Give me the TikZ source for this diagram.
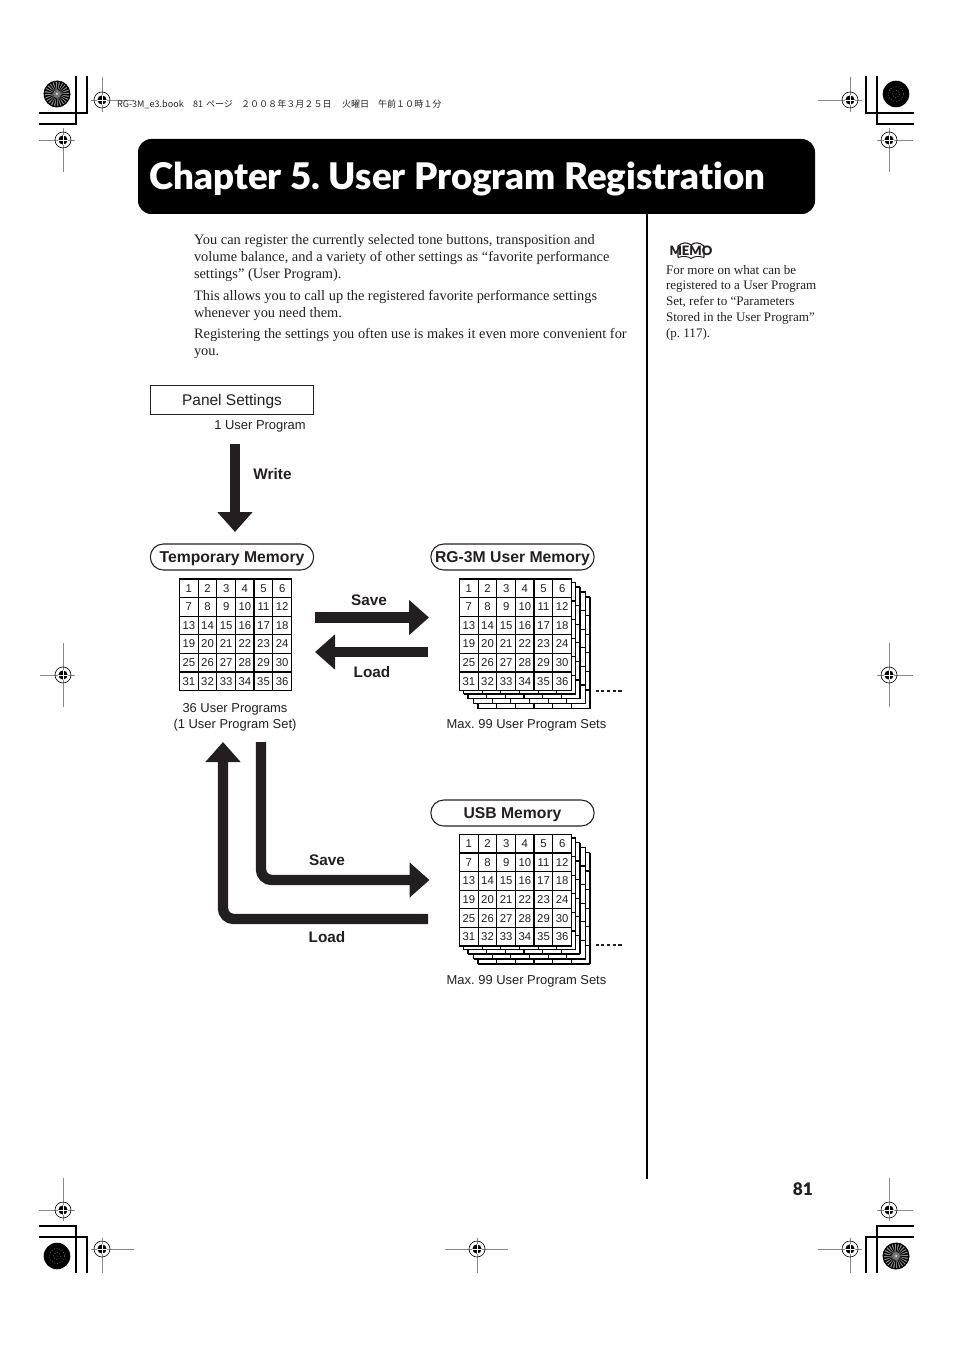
\documentclass[tikz,border=0pt]{standalone}
\usepackage{fontspec}
\usetikzlibrary{arrows.meta}
\setmainfont{Liberation Serif}
\setsansfont{Liberation Sans}
\newfontfamily\titlefont{Lato Black}[Ligatures=NoCommon]
\newfontfamily\cjkhead{Noto Sans CJK JP}
\definecolor{ink}{HTML}{231F20}
\definecolor{reg}{HTML}{8A8A8A}
\newcommand{\fs}[1]{\fontsize{#1}{#1}\selectfont}
\newcommand{\fsl}[2]{\fontsize{#1}{#2}\selectfont}
\tikzset{
  x=0.75pt,y=-0.75pt,
  every node/.style={inner sep=0pt,outer sep=0pt,text=ink},
  bigarrow/.style={draw=ink,line width=7.8pt,-{Triangle[length=15pt,width=25.5pt,fill=ink]},rounded corners=8pt},
  pill/.style={draw=ink,line width=0.8pt,rounded corners=9.7pt,minimum width=122.5pt,minimum height=19.5pt,text height=10.2pt,text depth=2pt,font=\sffamily\bfseries\fs{11.8},fill=white},
  lab/.style={font=\sffamily\fsl{9.7}{12}},
  blab/.style={font=\sffamily\bfseries\fs{11.5}},
  cellnum/.style={font=\sffamily\fs{8.5}},
  bodytext/.style={anchor=north west,align=left,font=\rmfamily\fsl{10.8}{12.75},text=ink},
  hdrtext/.style={anchor=base west,font=\cjkhead\fs{6.8},text=black!85},
  gridline/.style={draw=black,line width=0.9pt},
  regline/.style={draw=reg,line width=0.6pt},
  crop/.style={draw=black,line width=0.8pt},
}
% numbered grid: name, left, top
\newcommand{\numgrid}[3]{%
  \fill[white] (#2,#3) rectangle ++(112,111.5);
  \foreach \i in {0,...,6} {%
    \draw[gridline] ({#2+\i*18.67},#3) -- ++(0,111.5);
    \draw[gridline] (#2,{#3+\i*18.58}) -- ++(112,0);
  }
  \draw[gridline,line width=1.2pt] (#2,#3) rectangle ++(112,111.5);
  \draw[gridline,line width=1.2pt] ({#2+4*18.67},#3) -- ++(0,111.5);
  \draw[gridline,line width=1.2pt] (#2,{#3+5*18.58}) -- ++(112,0);
  \foreach \r in {0,...,5} \foreach \c in {1,...,6} {%
    \pgfmathtruncatemacro{\n}{\r*6+\c}
    \node[cellnum] (#1-\n) at ({#2+(\c-0.5)*18.67},{#3+(\r+0.5)*18.58}) {\n};
  }
}
% blank sheet behind a grid
\newcommand{\backsheet}[2]{%
  \fill[white] ({#1},{#2}) rectangle ++(112,111.5);
  \foreach \i in {0,...,6} {%
    \draw[gridline] ({#1+\i*18.67},{#2}) -- ++(0,111.5);
    \draw[gridline] ({#1},{#2+\i*18.58}) -- ++(112,0);
  }
}
\newcommand{\stackgrid}[3]{%
  \backsheet{#2+18.5}{#3+18}
  \backsheet{#2+14}{#3+13}
  \backsheet{#2+8.5}{#3+8}
  \backsheet{#2+4}{#3+3.5}
  \numgrid{#1}{#2}{#3}
}
% registration mark: cx cy x1 x2 y1 y2
\newcommand{\regmark}[6]{%
  \draw[regline] (#3,#2) -- (#4,#2);
  \draw[regline] (#1,#5) -- (#1,#6);
  \draw[draw=black,line width=0.45pt] (#1,#2) circle[radius=8];
  \fill[black] (#1,#2) circle[radius=4.6];
  \draw[white,line width=0.55pt] ({#1-4.6},#2) -- ({#1+4.6},#2) ({#1},{#2-4.6}) -- ({#1},{#2+4.6});
}
\newcommand{\burst}[2]{%
  \fill[black!40] (#1,#2) circle[radius=13.3];
  \foreach \a in {0,15,...,345} {%
    \fill[black] (#1,#2) -- ++(\a:13.3) -- ++({\a+97}:1.9) -- cycle;
  }
  \draw[black,line width=0.8pt] (#1,#2) circle[radius=12.8];
  \fill[black!55] (#1,#2) circle[radius=4];
  \fill[white] (#1,#2) circle[radius=1];
}
\newcommand{\darkburst}[2]{%
  \fill[black] (#1,#2) circle[radius=13.3];
  \draw[black!55,line width=0.35pt,dash pattern=on 0.8pt off 1.2pt] (#1,#2) circle[radius=3.5] (#1,#2) circle[radius=7.5];
  \fill[black!70] (#1,#2) circle[radius=0.7];
}
\begin{document}
\frenchspacing
\begin{tikzpicture}
\useasboundingbox (0,0) rectangle (954,1351);
% corner crop lines
\draw[crop] (39,124) -- (76,124) -- (76,76);
\draw[crop] (39,113) -- (87,113) -- (87,76);
\draw[crop] (914,113) -- (866,113) -- (866,76);
\draw[crop] (914,124) -- (877,124) -- (877,76);
\draw[crop] (39,1226) -- (76,1226) -- (76,1273);
\draw[crop] (39,1237) -- (87,1237) -- (87,1273);
\draw[crop] (914,1237) -- (866,1237) -- (866,1273);
\draw[crop] (914,1226) -- (877,1226) -- (877,1273);
% registration marks
\regmark{102}{100}{91}{134}{77}{112}
\regmark{63}{140}{39}{75}{128}{172}
\regmark{850}{100}{818}{862}{77}{112}
\regmark{889}{140}{877}{913}{128}{172}
\regmark{63}{675}{40}{75}{643}{707}
\regmark{889}{675}{877}{913}{643}{707}
\regmark{63}{1210}{39}{75}{1178}{1221}
\regmark{889}{1210}{877}{913}{1178}{1221}
\regmark{102}{1249}{91}{134}{1238}{1273}
\regmark{850}{1249}{818}{862}{1238}{1273}
\regmark{477}{1249}{445}{508}{1238}{1273}
\burst{57}{94}
\burst{896}{1256}
\darkburst{896}{94}
\darkburst{57}{1256}
% header
\node[hdrtext] (hdr1) at (117,108) {RG-3M\_e3.book};
\node[hdrtext] (hdr2) at (193,108) {81};
\node[hdrtext] (hdr3) at (206,108) {ページ};
\node[hdrtext] (hdr4) at (241,108) {２００８年３月２５日};
\node[hdrtext] (hdr5) at (342,108) {火曜日};
\node[hdrtext] (hdr6) at (378,108) {午前１０時１分};
% title
\node[fill=black,rounded corners=10pt,minimum width=507.75pt,minimum height=56.25pt] (bar) at (476.5,176.5) {};
\node[anchor=base west,font=\titlefont\fs{27.5},text=white] (title) at (149.5,190) {Chapter 5. User Program Registration};
% column rule
\coordinate (ruletop) at (646.5,214);
\coordinate (rulebot) at (646.5,1179);
\draw[black,line width=1.5pt] (ruletop) -- (rulebot);
\node[anchor=base east,font=\titlefont\fs{13}] (page) at (813,1195) {81};
% body text
\node[bodytext] (p1) at (194,235) {You can register the currently selected tone buttons, transposition and\\volume balance, and a variety of other settings as “favorite performance\\settings” (User Program).};
\node[bodytext] (p2) at (194,290) {This allows you to call up the registered favorite performance settings\\whenever you need them.};
\node[bodytext] (p3) at (194,328) {Registering the settings you often use is makes it even more convenient for\\you.};
\node[bodytext,font=\rmfamily\fsl{9.8}{11.9}] (memo) at (666,265) {For more on what can be\\registered to a User Program\\Set, refer to “Parameters\\Stored in the User Program”\\(p. 117).};
\draw[ink,line width=0.8pt] (678,257.5) -- (678,246) .. controls (683,242) and (687,242) .. (691,245) .. controls (695,242) and (699,242) .. (704,246) -- (704,257.5);
\draw[ink,line width=0.7pt] (691,245) -- (691,250);
\draw[ink,line width=0.7pt] (678,257.5) .. controls (684,255.5) and (688,256.5) .. (691,258.5) .. controls (694,256.5) and (698,255.5) .. (704,257.5);
\node[anchor=base west,font=\titlefont\fs{9.7}] (memologo) at (669.5,256) {MEMO};
% diagram boxes
\node[draw=ink,line width=0.8pt,minimum width=122.5pt,minimum height=21.7pt,text height=9.5pt,text depth=2pt,font=\sffamily\fs{11.6}] (panel) at (232,400) {Panel Settings};
\node[lab] (oneprog) at (260,426) {1 User Program};
\node[pill] (temp) at (232,557) {Temporary Memory};
\node[pill] (rg) at (512.5,557) {RG-3M User Memory};
\node[pill] (usb) at (512.5,813) {USB Memory};
\numgrid{ta}{179.5}{579}
\stackgrid{ra}{459.5}{579}
\stackgrid{ua}{459.5}{834.5}
\node[lab,align=center] (t36) at (235,717.5) {36 User Programs\\(1 User Program Set)};
\node[lab] (rmax) at (526.5,725.5) {Max. 99 User Program Sets};
\node[lab] (umax) at (526.5,981.5) {Max. 99 User Program Sets};
\foreach \yy/\nm in {691/rd,945/ud} {
  \draw[ink,line width=2.2pt,dash pattern=on 2.4pt off 1.9pt] (595.5,\yy) -- (622.5,\yy);
}
% arrows
\coordinate (w0) at (235,444);
\coordinate (w1) at (235,532);
\draw[bigarrow] (w0) -- (w1);
\node[blab] (writel) at (272.5,474) {Write};
\coordinate (s0) at (315,617.5);
\coordinate (s1) at (429,617.5);
\draw[bigarrow] (s0) -- (s1);
\node[blab] (savel) at (369,600) {Save};
\coordinate (l0) at (428,652);
\coordinate (l1) at (315,652);
\draw[bigarrow] (l0) -- (l1);
\node[blab] (loadl) at (372,672) {Load};
\coordinate (us0) at (261,742);
\coordinate (usc) at (261,880);
\coordinate (us1) at (429.5,880);
\draw[bigarrow] (us0) -- (usc) -- (us1);
\node[blab] (usavel) at (327,860) {Save};
\coordinate (ul0) at (428,919);
\coordinate (ulc) at (223,919);
\coordinate (ul1) at (223,742);
\draw[bigarrow] (ul0) -- (ulc) -- (ul1);
\node[blab] (uloadl) at (327,937) {Load};
\end{tikzpicture}
\end{document}
